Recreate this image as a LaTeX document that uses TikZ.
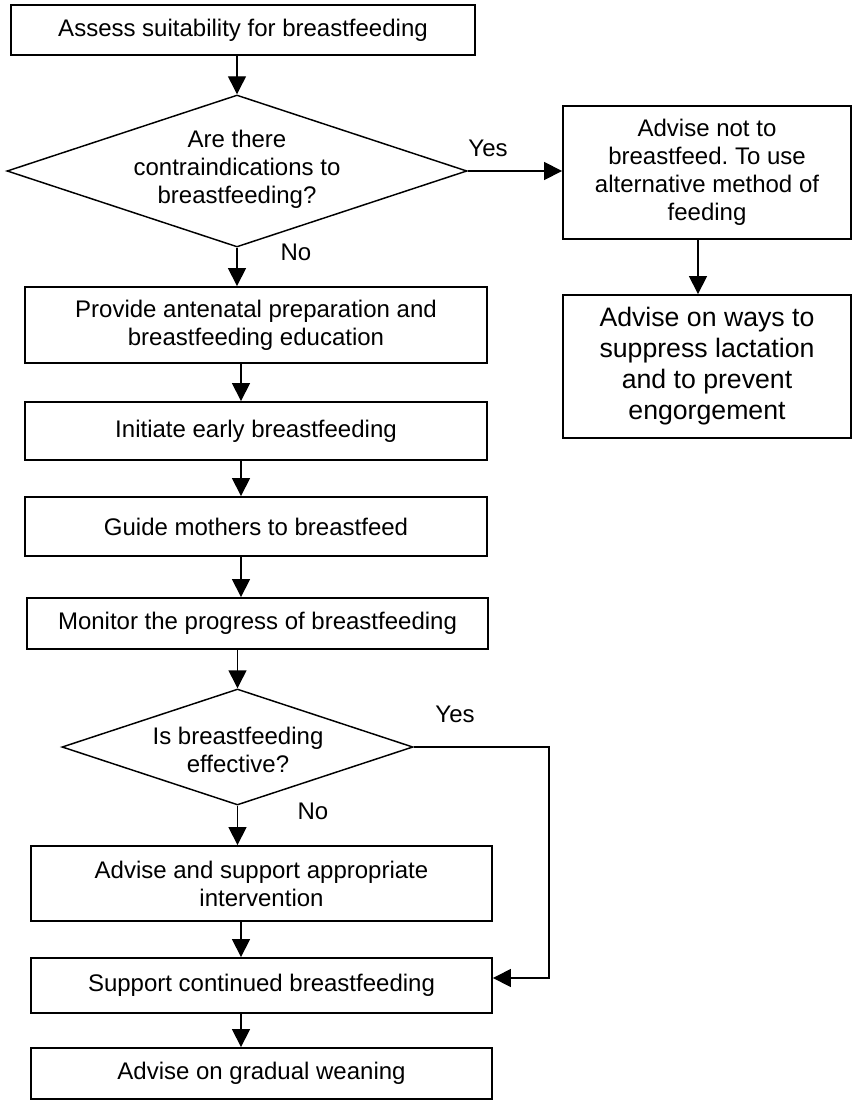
\documentclass[tikz,border=0pt]{standalone}
\usepackage{fontspec}
\setmainfont{Liberation Sans}
\usetikzlibrary{arrows.meta,shapes.geometric}
\frenchspacing
\begin{document}
\begin{tikzpicture}[x=0.75pt,y=-0.75pt,
  box/.style={draw, line width=1.4pt, rectangle, inner sep=0pt, align=center, font=\fontsize{18pt}{21pt}\selectfont},
  bigbox/.style={box, font=\fontsize{20pt}{23.25pt}\selectfont},
  dia/.style={draw, line width=1.1pt, diamond, inner sep=0pt},
  txt/.style={align=center, inner sep=0pt, font=\fontsize{18pt}{21pt}\selectfont},
  arr/.style={line width=1.1pt, -{Triangle[length=13.5pt,width=13.5pt]}},
  lab/.style={inner sep=0pt, font=\fontsize{18pt}{21pt}\selectfont}]
\useasboundingbox (0,0) rectangle (853,1102);

\node[box, minimum width=348pt, minimum height=37.5pt] (b1) at (243,30) {Assess suitability for breastfeeding};
\node[dia, minimum width=345pt, minimum height=114pt] (d1) at (237,171) {};
\node[txt] (d1t) at (237,169) {Are there\\contraindications to\\breastfeeding?};
\node[box, minimum width=216pt, minimum height=99.75pt] (r1) at (707,172.5) {Advise not to\\breastfeed. To use\\alternative method of\\feeding};
\node[bigbox, minimum width=216pt, minimum height=107.25pt] (r2) at (707,366.5) {Advise on ways to\\suppress lactation\\and to prevent\\engorgement};
\node[box, minimum width=346.5pt, minimum height=57pt] (b3) at (256,325) {Provide antenatal preparation and\\breastfeeding education};
\node[box, minimum width=346.5pt, minimum height=43.5pt] (b4) at (256,431) {Initiate early breastfeeding};
\node[box, minimum width=346.5pt, minimum height=44.25pt] (b5) at (256,526.5) {Guide mothers to breastfeed};
\node[box, minimum width=345.75pt, minimum height=38.25pt] (b6) at (257.5,623.5) {Monitor the progress of breastfeeding};
\node[dia, minimum width=263.25pt, minimum height=87pt] (d2) at (237.5,747) {};
\node[txt] (d2t) at (238,750) {Is breastfeeding\\effective?};
\node[box, minimum width=345.75pt, minimum height=56.25pt] (b7) at (261.5,883.5) {Advise and support appropriate\\intervention};
\node[box, minimum width=345.75pt, minimum height=41.25pt] (b8) at (261.5,985.5) {Support continued breastfeeding};
\node[box, minimum width=345.75pt, minimum height=38.25pt] (b9) at (261.5,1073.5) {Advise on gradual weaning};

\node[lab] (yes1) at (488,148) {Yes};
\node[lab] (no1) at (296,252) {No};
\node[lab] (yes2) at (455,714) {Yes};
\node[lab] (no2) at (313,811) {No};

\coordinate (cx) at (241,0);
\coordinate (ry) at (549,978);

\draw[arr] (b1.south -| d1.north) -- (d1.north);
\draw[arr] (d1.east) -- (r1.west |- d1.east);
\draw[arr] (d1.south) -- (d1.south |- b3.north);
\draw[arr] ([xshift=-6.75pt]r1.south) -- ([xshift=-6.75pt]r2.north);
\draw[arr] (b3.south -| cx) -- (b4.north -| cx);
\draw[arr] (b4.south -| cx) -- (b5.north -| cx);
\draw[arr] (b5.south -| cx) -- (b6.north -| cx);
\draw[arr] (b6.south -| d2.north) -- (d2.north);
\draw[arr] (d2.south) -- (d2.south |- b7.north);
\draw[arr] (b7.south -| cx) -- (b8.north -| cx);
\draw[arr] (b8.south -| cx) -- (b9.north -| cx);
\draw[arr] (d2.east) -| (ry) -- (b8.east |- ry);
\end{tikzpicture}
\end{document}
